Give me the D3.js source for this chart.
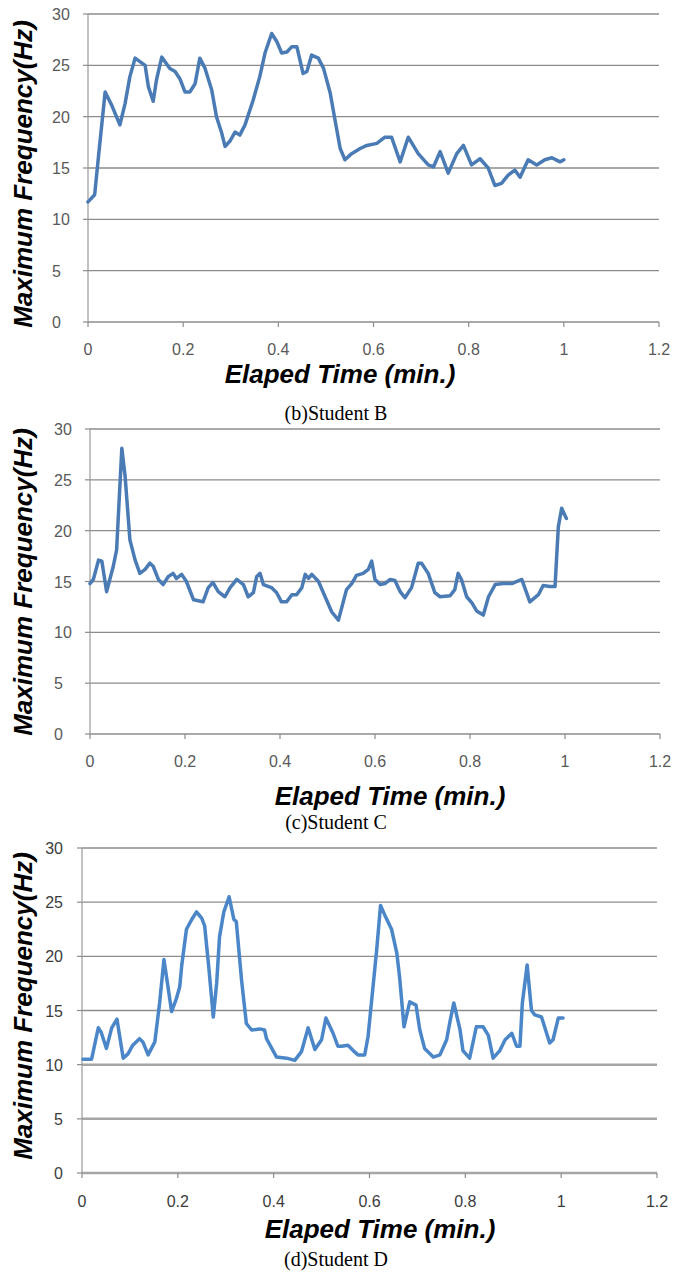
<!DOCTYPE html>
<html>
<head>
<meta charset="utf-8">
<script src="https://cdn.jsdelivr.net/npm/d3@7"></script>
<style>
  body { margin: 0; background: #fff; }
  .tick-label { font-family: "Liberation Sans", Arial, sans-serif; font-size: 16px; }
  .axis-title { font-family: "Liberation Sans", Arial, sans-serif; font-size: 26px; font-weight: bold; font-style: italic; fill: #000; }
  .caption { font-family: "Liberation Serif", "Times New Roman", serif; font-size: 20px; fill: #000; }
</style>
</head>
<body>
<div id="chart"></div>
<script>
var width = 673, height = 1273;

// shared axis values
var xTicks = [0, 0.2, 0.4, 0.6, 0.8, 1, 1.2];
var yTicks = [0, 5, 10, 15, 20, 25, 30];

// (b) Student B
var timeB = [0, 0.014, 0.022, 0.036, 0.05, 0.067, 0.078, 0.088, 0.099, 0.12, 0.127, 0.137, 0.144, 0.155, 0.172, 0.183, 0.193, 0.204, 0.214, 0.225, 0.235, 0.246, 0.26, 0.27, 0.281, 0.288, 0.298, 0.309, 0.319, 0.33, 0.347, 0.361, 0.372, 0.386, 0.397, 0.407, 0.418, 0.428, 0.439, 0.452, 0.46, 0.47, 0.484, 0.495, 0.509, 0.519, 0.53, 0.54, 0.554, 0.572, 0.586, 0.607, 0.624, 0.638, 0.656, 0.673, 0.694, 0.715, 0.726, 0.74, 0.757, 0.775, 0.789, 0.806, 0.824, 0.841, 0.855, 0.869, 0.883, 0.897, 0.908, 0.925, 0.943, 0.96, 0.975, 0.992, 1.0];
var freqB = [11.7, 12.4, 16.1, 22.4, 21.1, 19.2, 21.3, 23.9, 25.7, 25.0, 22.9, 21.5, 23.6, 25.8, 24.7, 24.4, 23.7, 22.4, 22.4, 23.2, 25.7, 24.7, 22.6, 20.0, 18.4, 17.1, 17.6, 18.5, 18.2, 19.2, 21.6, 23.9, 26.2, 28.1, 27.3, 26.2, 26.3, 26.8, 26.8, 24.2, 24.4, 26.0, 25.7, 24.7, 22.3, 19.7, 16.9, 15.8, 16.4, 16.9, 17.2, 17.4, 18.0, 18.0, 15.6, 18.0, 16.4, 15.3, 15.1, 16.6, 14.5, 16.4, 17.2, 15.3, 15.9, 15.0, 13.3, 13.5, 14.3, 14.8, 14.1, 15.8, 15.3, 15.8, 16.0, 15.6, 15.8];

// (c) Student C
var timeC = [0, 0.007, 0.018, 0.025, 0.035, 0.049, 0.056, 0.067, 0.074, 0.084, 0.095, 0.105, 0.116, 0.126, 0.133, 0.144, 0.154, 0.165, 0.175, 0.182, 0.193, 0.203, 0.218, 0.238, 0.249, 0.259, 0.27, 0.284, 0.295, 0.309, 0.323, 0.333, 0.344, 0.351, 0.358, 0.365, 0.382, 0.393, 0.403, 0.414, 0.425, 0.435, 0.446, 0.453, 0.46, 0.467, 0.481, 0.495, 0.509, 0.523, 0.54, 0.551, 0.561, 0.575, 0.586, 0.593, 0.6, 0.611, 0.621, 0.632, 0.642, 0.653, 0.663, 0.677, 0.691, 0.698, 0.712, 0.726, 0.737, 0.758, 0.768, 0.775, 0.782, 0.793, 0.804, 0.814, 0.828, 0.839, 0.853, 0.87, 0.888, 0.909, 0.926, 0.944, 0.954, 0.968, 0.979, 0.986, 0.993, 1.003];
var freqC = [14.8, 15.2, 17.1, 17.0, 14.0, 16.5, 18.1, 28.1, 25.3, 19.1, 17.1, 15.8, 16.2, 16.8, 16.5, 15.2, 14.7, 15.5, 15.8, 15.3, 15.7, 15.0, 13.2, 13.0, 14.4, 14.9, 14.0, 13.5, 14.4, 15.2, 14.7, 13.5, 13.9, 15.5, 15.8, 14.7, 14.4, 13.9, 13.0, 13.0, 13.7, 13.7, 14.4, 15.7, 15.3, 15.7, 15.0, 13.5, 12.0, 11.2, 14.2, 14.8, 15.6, 15.8, 16.2, 17.0, 15.2, 14.7, 14.8, 15.2, 15.1, 14.0, 13.4, 14.4, 16.8, 16.8, 15.8, 13.9, 13.5, 13.6, 14.2, 15.8, 15.2, 13.5, 12.9, 12.1, 11.7, 13.5, 14.7, 14.8, 14.8, 15.2, 13.0, 13.7, 14.6, 14.5, 14.5, 20.4, 22.2, 21.2];

// (d) Student D
var timeD = [0.002, 0.02, 0.034, 0.04, 0.051, 0.062, 0.073, 0.086, 0.096, 0.106, 0.12, 0.127, 0.138, 0.152, 0.162, 0.171, 0.187, 0.197, 0.204, 0.208, 0.218, 0.229, 0.239, 0.25, 0.256, 0.265, 0.274, 0.281, 0.287, 0.296, 0.307, 0.317, 0.322, 0.333, 0.343, 0.354, 0.371, 0.381, 0.385, 0.406, 0.427, 0.444, 0.458, 0.472, 0.486, 0.5, 0.509, 0.524, 0.534, 0.542, 0.555, 0.566, 0.576, 0.59, 0.597, 0.606, 0.615, 0.623, 0.632, 0.646, 0.657, 0.663, 0.672, 0.684, 0.697, 0.705, 0.715, 0.733, 0.747, 0.761, 0.768, 0.776, 0.789, 0.795, 0.809, 0.823, 0.837, 0.848, 0.858, 0.872, 0.883, 0.897, 0.907, 0.914, 0.919, 0.929, 0.938, 0.945, 0.959, 0.976, 0.983, 0.994, 1.004];
var freqD = [10.5, 10.5, 13.4, 13.0, 11.5, 13.4, 14.2, 10.6, 11.0, 11.8, 12.4, 12.1, 10.9, 12.1, 15.7, 19.7, 14.9, 16.1, 17.2, 19.1, 22.5, 23.4, 24.1, 23.5, 22.8, 18.8, 14.4, 17.5, 21.8, 24.1, 25.5, 23.4, 23.2, 17.8, 13.8, 13.2, 13.3, 13.2, 12.4, 10.7, 10.6, 10.4, 11.2, 13.4, 11.4, 12.3, 14.3, 12.9, 11.7, 11.7, 11.8, 11.3, 10.9, 10.9, 12.6, 16.6, 20.6, 24.7, 23.8, 22.5, 20.3, 18.0, 13.5, 15.8, 15.5, 13.2, 11.5, 10.7, 10.9, 12.3, 14.0, 15.7, 13.2, 11.3, 10.6, 13.5, 13.5, 12.7, 10.6, 11.3, 12.3, 12.9, 11.7, 11.7, 15.7, 19.2, 15.0, 14.6, 14.4, 12.0, 12.3, 14.3, 14.3];

var svg = d3.select("#chart").append("svg")
    .attr("width", width)
    .attr("height", height);

var panels = [
  { time: timeB, freq: freqB, caption: "(b)Student B",
    left: 88, right: 659, top: 14, bottom: 322,
    tickY: 355, titleX: 340, titleY: 383, capY: 420, ylabY: 174,
    lineColor: "#4a7bb5", labelColor: "#595959", yAlign: "start" },
  { time: timeC, freq: freqC, caption: "(c)Student C",
    left: 90, right: 660, top: 429, bottom: 734,
    tickY: 767, titleX: 390, titleY: 805, capY: 829, ylabY: 582,
    lineColor: "#4a7bb5", labelColor: "#595959", yAlign: "start" },
  { time: timeD, freq: freqD, caption: "(d)Student D",
    left: 82, right: 657, top: 848, bottom: 1173,
    tickY: 1207, titleX: 380, titleY: 1238, capY: 1266, ylabY: 1006,
    lineColor: "#4a86c8", labelColor: "#3c3c3c", yAlign: "end", thickLow: true }
];

panels.forEach(drawPanel);

function drawPanel(p) {
    var x = d3.scaleLinear().domain([0, 1.2]).range([p.left, p.right]);
    var y = d3.scaleLinear().domain([0, 30]).range([p.bottom, p.top]);

    var g = svg.append("g");

    // horizontal gridlines
    g.selectAll(".grid")
        .data(yTicks)
        .enter().append("line")
        .attr("x1", p.left)
        .attr("x2", p.right)
        .attr("y1", function(d) { return y(d); })
        .attr("y2", function(d) { return y(d); })
        .attr("stroke", function(d) { return (p.thickLow && d <= 10) ? "#a6a6a6" : "#8c8c8c"; })
        .attr("stroke-width", function(d) { return (p.thickLow && d <= 10) ? 2.5 : 1.3; });

    // y axis line
    g.append("line")
        .attr("x1", p.left).attr("x2", p.left)
        .attr("y1", p.top).attr("y2", p.bottom)
        .attr("stroke", "#999").attr("stroke-width", 1.2);

    // small tick marks on y axis and x axis
    g.selectAll(".ytick")
        .data(yTicks)
        .enter().append("line")
        .attr("x1", p.left - 5).attr("x2", p.left)
        .attr("y1", function(d) { return y(d); })
        .attr("y2", function(d) { return y(d); })
        .attr("stroke", "#8c8c8c").attr("stroke-width", 1.2);

    g.selectAll(".xtick")
        .data(xTicks)
        .enter().append("line")
        .attr("x1", function(d) { return x(d); })
        .attr("x2", function(d) { return x(d); })
        .attr("y1", p.bottom).attr("y2", p.bottom + 5)
        .attr("stroke", "#8c8c8c").attr("stroke-width", 1.2);

    // tick labels
    g.selectAll(".ylab")
        .data(yTicks)
        .enter().append("text")
        .attr("class", "tick-label")
        .attr("fill", p.labelColor)
        .attr("x", p.yAlign == "start" ? p.left - 36 : p.left - 19)
        .attr("y", function(d) { return y(d) + 6; })
        .attr("text-anchor", p.yAlign)
        .text(function(d) { return d; });

    g.selectAll(".xlab")
        .data(xTicks)
        .enter().append("text")
        .attr("class", "tick-label")
        .attr("fill", p.labelColor)
        .attr("x", function(d) { return x(d); })
        .attr("y", p.tickY)
        .attr("text-anchor", "middle")
        .text(function(d) { return d; });

    // the series
    var pts = p.time.map(function(t, i) { return [t, p.freq[i]]; });
    var line = d3.line()
        .x(function(d) { return x(d[0]); })
        .y(function(d) { return y(d[1]); });

    g.append("path")
        .datum(pts)
        .attr("d", line)
        .attr("fill", "none")
        .attr("stroke", p.lineColor)
        .attr("stroke-width", 3.5)
        .attr("stroke-linejoin", "round")
        .attr("stroke-linecap", "round");

    // axis titles
    g.append("text")
        .attr("class", "axis-title")
        .attr("x", p.titleX)
        .attr("y", p.titleY)
        .attr("text-anchor", "middle")
        .text("Elaped Time (min.)");

    g.append("text")
        .attr("class", "axis-title")
        .attr("transform", "translate(32," + p.ylabY + ") rotate(-90)")
        .attr("text-anchor", "middle")
        .text("Maximum Frequency(Hz)");

    // caption under each chart
    g.append("text")
        .attr("class", "caption")
        .attr("x", 336)
        .attr("y", p.capY)
        .attr("text-anchor", "middle")
        .text(p.caption);
}
</script>
</body>
</html>
